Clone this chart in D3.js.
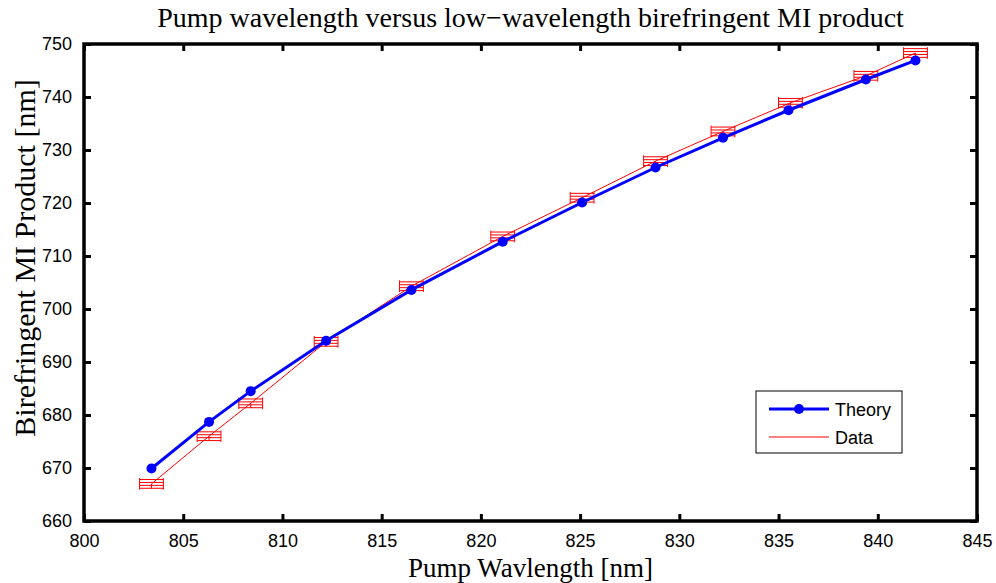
<!DOCTYPE html>
<html>
<head>
<meta charset="utf-8">
<script src="https://cdn.jsdelivr.net/npm/d3@7"></script>
<style>
  body { margin: 0; background: #fff; }
  svg { display: block; }
</style>
</head>
<body>
<div id="chart"></div>
<script>
// theory curve
let theoryX = [803.4, 806.3, 808.4, 812.2, 816.5, 821.1, 825.1, 828.8, 832.2, 835.5, 839.4, 841.9]
let theoryY = [669.9, 678.7, 684.5, 694.0, 703.6, 712.7, 720.1, 726.7, 732.3, 737.5, 743.3, 746.9]
// measured data
let dataX = [803.4, 806.3, 808.4, 812.2, 816.5, 821.1, 825.1, 828.8, 832.2, 835.6, 839.4, 841.9]
let dataY = [667.0, 676.0, 682.2, 693.8, 704.3, 713.7, 721.0, 727.9, 733.5, 738.9, 744.0, 748.3]
let xErr = 0.6
let yErr = 1.1

let xTicks = [800, 805, 810, 815, 820, 825, 830, 835, 840, 845]
let yTicks = [660, 670, 680, 690, 700, 710, 720, 730, 740, 750]

let W = 996, H = 583
let margin = {top: 44, right: 19, bottom: 62, left: 84}
let w = W - margin.left - margin.right
let h = H - margin.top - margin.bottom

let svg = d3.select('#chart').append('svg')
    .attr('width', W).attr('height', H)

let g = svg.append('g')
    .attr('transform', "translate(" + margin.left + "," + margin.top + ")")

let x = d3.scaleLinear().domain([800, 845]).range([0, w])
let y = d3.scaleLinear().domain([660, 750]).range([h, 0])

let tickFont = "'Liberation Sans', Arial, sans-serif"
let serif = "'Liberation Serif', 'Times New Roman', serif"

// axes with inward ticks, mirrored on top/right
function styleAxis(sel) {
    sel.select('.domain').remove()
    sel.selectAll('.tick line').attr('stroke', '#000').attr('stroke-width', 3)
    sel.selectAll('text').style('font-family', tickFont).style('font-size', '18px').attr('fill', '#000')
}
g.append('g').attr('transform', "translate(0," + h + ")")
    .call(d3.axisBottom(x).tickValues(xTicks).tickSizeInner(-7).tickSizeOuter(0).tickPadding(13))
    .call(styleAxis)
g.append('g')
    .call(d3.axisLeft(y).tickValues(yTicks).tickSizeInner(-7).tickSizeOuter(0).tickPadding(12))
    .call(styleAxis)
g.append('g')
    .call(d3.axisTop(x).tickValues(xTicks).tickSizeInner(-7).tickSizeOuter(0).tickFormat(''))
    .call(styleAxis)
g.append('g').attr('transform', "translate(" + w + ",0)")
    .call(d3.axisRight(y).tickValues(yTicks).tickSizeInner(-7).tickSizeOuter(0).tickFormat(''))
    .call(styleAxis)

// data line + error bars
let pts = dataX.map((d, i) => ({x: d, y: dataY[i]}))
let line = d3.line().x(d => x(d.x)).y(d => y(d.y))

let eb = g.append('g').attr('stroke', 'red').attr('stroke-width', 1).attr('fill', 'none')
let hOffsets = [-0.75, -0.25, 0.25, 0.75]
pts.forEach(p => {
    hOffsets.forEach(o => {
        eb.append('line')
            .attr('x1', x(p.x - xErr)).attr('x2', x(p.x + xErr))
            .attr('y1', y(p.y + o * yErr)).attr('y2', y(p.y + o * yErr))
    })
    ;[p.x - xErr, p.x + xErr].forEach(xx => {
        eb.append('line')
            .attr('x1', x(xx)).attr('x2', x(xx))
            .attr('y1', y(p.y - yErr)).attr('y2', y(p.y + yErr))
    })
    eb.append('line')
        .attr('x1', x(p.x)).attr('x2', x(p.x))
        .attr('y1', y(p.y)).attr('y2', y(p.y - 0.8 * yErr))
})
g.append('path').datum(pts).attr('d', line)
    .attr('fill', 'none').attr('stroke', 'red').attr('stroke-width', 1)

// theory line
let tpts = theoryX.map((d, i) => ({x: d, y: theoryY[i]}))
g.append('path').datum(tpts).attr('d', line)
    .attr('fill', 'none').attr('stroke', '#0000ff').attr('stroke-width', 3)
g.selectAll('.dot').data(tpts).enter().append('circle')
    .attr('cx', d => x(d.x)).attr('cy', d => y(d.y)).attr('r', 5)
    .attr('fill', '#0000ff')

// frame
g.append('rect').attr('width', w).attr('height', h)
    .attr('fill', 'none').attr('stroke', '#000').attr('stroke-width', 3.5)

// legend
let lg = svg.append('g').attr('transform', "translate(756,391)")
lg.append('rect').attr('width', 146).attr('height', 62)
    .attr('fill', '#fff').attr('stroke', '#000').attr('stroke-width', 1)
lg.append('line').attr('x1', 13).attr('x2', 73).attr('y1', 18).attr('y2', 18)
    .attr('stroke', '#0000ff').attr('stroke-width', 3)
lg.append('circle').attr('cx', 43).attr('cy', 18).attr('r', 5).attr('fill', '#0000ff')
lg.append('line').attr('x1', 13).attr('x2', 73).attr('y1', 46).attr('y2', 46)
    .attr('stroke', 'red').attr('stroke-width', 1)
lg.append('text').attr('x', 79).attr('y', 25).text('Theory')
    .style('font-family', tickFont).style('font-size', '18px')
lg.append('text').attr('x', 79).attr('y', 53).text('Data')
    .style('font-family', tickFont).style('font-size', '18px')

// titles
svg.append('text').attr('x', margin.left + w / 2).attr('y', 27)
    .attr('text-anchor', 'middle').text('Pump wavelength versus low\u2212wavelength birefringent MI product')
    .style('font-family', serif).style('font-size', '28px')
svg.append('text').attr('x', margin.left + w / 2).attr('y', 577)
    .attr('text-anchor', 'middle').text('Pump Wavlength [nm]')
    .style('font-family', serif).style('font-size', '27px')
svg.append('text')
    .attr('transform', "translate(35,258) rotate(-90)")
    .attr('text-anchor', 'middle').text('Birefringent MI Product [nm]')
    .style('font-family', serif).style('font-size', '30px')
</script>
</body>
</html>
